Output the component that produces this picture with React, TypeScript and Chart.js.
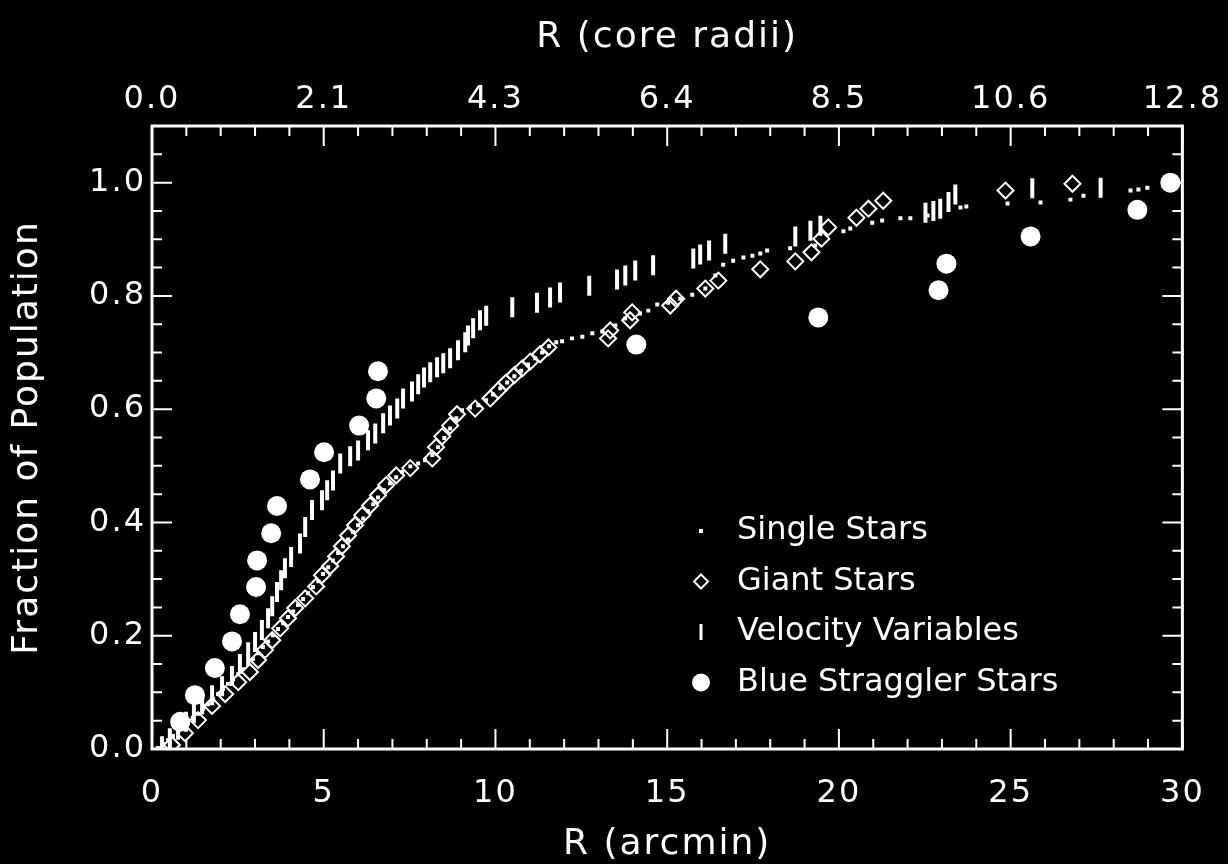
import React, { useEffect, useRef } from 'react';
import { Chart, registerables } from 'chart.js';

Chart.register(...registerables);

const FONT = '"DejaVu Sans", "Liberation Sans", sans-serif';
const WHITE = '#ffffff';

// Cumulative radial distributions, R in arcmin, fraction of each population.
const singleR = [
  0.17, 0.32, 0.47, 0.61, 0.76, 0.9, 1.05, 1.19, 1.34, 1.49, 1.63, 1.78, 1.92, 2.07, 2.21, 2.36, 2.51, 2.65, 2.8, 2.94,
  3.09, 3.23, 3.38, 3.52, 3.67, 3.82, 3.96, 4.11, 4.25, 4.4, 4.54, 4.69, 4.84, 4.98, 5.13, 5.27, 5.42, 5.56, 5.71, 5.85,
  6.0, 6.15, 6.29, 6.44, 6.58, 6.76, 6.93, 7.11, 7.28, 7.52, 7.75, 7.95, 8.16, 8.33, 8.51, 8.68, 8.86, 9.03, 9.26, 9.5,
  9.73, 9.93, 10.14, 10.34, 10.55, 10.75, 10.95, 11.16, 11.36, 11.56, 11.77, 11.94, 12.23, 12.53, 12.82, 13.11, 13.49,
  13.78, 14.21, 14.45, 14.71, 15.03, 15.38, 15.73, 16.11, 16.4, 16.63, 16.92, 17.22, 17.48, 17.71, 17.91, 18.58, 19.31,
  20.13, 20.33, 20.97, 21.26, 21.79, 22.08, 22.58, 23.54, 23.71, 24.91, 25.87, 26.74, 27.12, 28.49, 28.72, 28.98, 29.51,
];
const singleFrac = [
  0.002, 0.009, 0.016, 0.023, 0.032, 0.039, 0.046, 0.055, 0.062, 0.071, 0.079, 0.088, 0.097, 0.106, 0.115, 0.123, 0.132,
  0.141, 0.15, 0.159, 0.169, 0.18, 0.19, 0.201, 0.212, 0.222, 0.233, 0.243, 0.254, 0.265, 0.275, 0.286, 0.296, 0.309,
  0.321, 0.333, 0.346, 0.358, 0.37, 0.383, 0.395, 0.407, 0.42, 0.432, 0.444, 0.457, 0.469, 0.48, 0.489, 0.499, 0.504,
  0.51, 0.519, 0.533, 0.549, 0.566, 0.584, 0.598, 0.603, 0.607, 0.616, 0.626, 0.637, 0.647, 0.658, 0.668, 0.679, 0.69,
  0.7, 0.711, 0.718, 0.72, 0.725, 0.728, 0.734, 0.737, 0.748, 0.76, 0.769, 0.774, 0.785, 0.788, 0.795, 0.802, 0.813,
  0.836, 0.855, 0.862, 0.868, 0.871, 0.875, 0.88, 0.884, 0.889, 0.914, 0.919, 0.929, 0.933, 0.937, 0.937, 0.942, 0.956,
  0.958, 0.963, 0.965, 0.97, 0.977, 0.986, 0.988, 0.991, 0.996,
];

const giantR = [
  0.58, 0.96, 1.34, 1.75, 2.13, 2.51, 2.85, 3.09, 3.29, 3.5, 3.73, 3.96, 4.17, 4.46, 4.78, 4.95, 5.19, 5.36, 5.53, 5.71,
  5.91, 6.12, 6.35, 6.58, 6.82, 7.11, 7.52, 8.16, 8.27, 8.45, 8.68, 8.88, 9.41, 9.85, 10.08, 10.31, 10.55, 10.78, 11.01,
  11.3, 11.54, 13.28, 13.34, 13.92, 13.98, 15.09, 15.26, 16.11, 16.49, 17.71, 18.73, 19.2, 19.49, 19.69, 20.51, 20.86,
  21.29, 24.85, 26.8,
];
const giantFrac = [
  0.007, 0.028, 0.051, 0.076, 0.097, 0.118, 0.136, 0.157, 0.175, 0.192, 0.213, 0.231, 0.249, 0.266, 0.287, 0.307, 0.323,
  0.34, 0.358, 0.377, 0.395, 0.413, 0.43, 0.448, 0.466, 0.483, 0.496, 0.513, 0.533, 0.552, 0.571, 0.591, 0.601, 0.619,
  0.633, 0.647, 0.66, 0.672, 0.684, 0.697, 0.709, 0.725, 0.739, 0.757, 0.771, 0.783, 0.795, 0.813, 0.827, 0.847, 0.861,
  0.877, 0.901, 0.921, 0.938, 0.954, 0.968, 0.986, 0.998,
];

const velR = [
  0.29, 0.52, 0.76, 0.99, 1.22, 1.46, 1.75, 2.04, 2.33, 2.56, 2.8, 3.0, 3.2, 3.38, 3.5, 3.64, 3.76, 3.87, 4.05, 4.31,
  4.46, 4.66, 4.95, 5.1, 5.27, 5.48, 5.77, 6.0, 6.29, 6.5, 6.73, 6.93, 7.14, 7.31, 7.57, 7.75, 7.92, 8.1, 8.3, 8.48,
  8.68, 8.91, 9.12, 9.2, 9.35, 9.55, 9.73, 10.49, 11.21, 11.59, 11.88, 12.73, 13.54, 13.78, 14.07, 14.59, 15.76, 15.96,
  16.22, 16.69, 18.73, 19.17, 19.46, 22.52, 22.75, 22.95, 23.19, 23.39, 25.63, 27.62,
];
const velFrac = [
  0.005, 0.019, 0.034, 0.048, 0.063, 0.079, 0.095, 0.111, 0.129, 0.15, 0.171, 0.189, 0.21, 0.231, 0.252, 0.277, 0.298,
  0.319, 0.339, 0.363, 0.392, 0.422, 0.439, 0.457, 0.474, 0.504, 0.517, 0.527, 0.545, 0.557, 0.575, 0.589, 0.601, 0.619,
  0.631, 0.644, 0.656, 0.665, 0.674, 0.681, 0.69, 0.704, 0.718, 0.73, 0.743, 0.757, 0.765, 0.78, 0.788, 0.797, 0.806,
  0.818, 0.829, 0.836, 0.845, 0.854, 0.866, 0.873, 0.88, 0.892, 0.905, 0.915, 0.924, 0.947, 0.95, 0.954, 0.966, 0.979,
  0.99, 0.991,
];

const bssR = [
  0.82, 1.25, 1.83, 2.33, 2.56, 3.03, 3.06, 3.47, 3.64, 4.6, 5.01, 6.03, 6.53, 6.58, 14.1, 19.4, 22.9, 23.13, 25.58,
  28.69, 29.65,
];
const bssFrac = [
  0.048, 0.095, 0.143, 0.19, 0.238, 0.286, 0.333, 0.381, 0.429, 0.476, 0.524, 0.571, 0.619, 0.667, 0.714, 0.762, 0.81,
  0.857, 0.905, 0.952, 1.0,
];

// Axis ticks: bottom in arcmin, top the same positions expressed in core radii.
const xTickValues = [0, 5, 10, 15, 20, 25, 30];
const coreRadiiLabels = ['0.0', '2.1', '4.3', '6.4', '8.5', '10.6', '12.8'];
const yTickValues = [0, 0.2, 0.4, 0.6, 0.8, 1.0];

const X_MIN = 0;
const X_MAX = 30;
const Y_MIN = 0;
const Y_MAX = 1.1;

const toPoints = (xs: number[], ys: number[]) => xs.map((x, i) => ({ x, y: ys[i] }));

const tickFont = { family: FONT, size: 32, lineHeight: 1 };
const bottomTickFont = { family: FONT, size: 32, lineHeight: 1.6 };
const titleFont = { family: FONT, size: 36, lineHeight: 1 };

// Widen the glyph spacing of axis labels and titles (drawn before the datasets).
const spacingPlugin = {
  id: 'axisTextSpacing',
  beforeDraw(chart: any) {
    chart.ctx.letterSpacing = '2px';
  },
  beforeDatasetsDraw(chart: any) {
    chart.ctx.letterSpacing = '0px';
  },
};

// Inward-pointing ticks on all four sides plus the frame.
const framePlugin = {
  id: 'frameTicks',
  afterDraw(chart: any) {
    const { ctx, chartArea, scales } = chart;
    const { left, right, top, bottom } = chartArea;
    ctx.save();
    ctx.strokeStyle = WHITE;
    ctx.lineWidth = 2;
    const xs = scales.x;
    for (let k = 0; k <= 30; k++) {
      const v = X_MIN + k;
      const p = xs.getPixelForValue(v);
      const len = k % 5 === 0 ? 20 : 10;
      ctx.beginPath();
      ctx.moveTo(p, bottom);
      ctx.lineTo(p, bottom - len);
      ctx.moveTo(p, top);
      ctx.lineTo(p, top + len);
      ctx.stroke();
    }
    const ys = scales.y;
    for (let k = 0; k <= 22; k++) {
      const v = Y_MIN + k * 0.05;
      const p = ys.getPixelForValue(v);
      const len = k % 4 === 0 ? 20 : 10;
      ctx.beginPath();
      ctx.moveTo(left, p);
      ctx.lineTo(left + len, p);
      ctx.moveTo(right, p);
      ctx.lineTo(right - len, p);
      ctx.stroke();
    }
    ctx.lineWidth = 3;
    ctx.strokeRect(left, top, right - left, bottom - top);
    ctx.restore();
  },
};

// Symbol key placed inside the plotting area.
const keyPlugin = {
  id: 'symbolKey',
  afterDraw(chart: any) {
    const { ctx, chartArea } = chart;
    const markerX = chartArea.left + 549;
    const textX = chartArea.left + 585;
    const firstY = chartArea.top + 405;
    const gap = 50.5;
    ctx.save();
    ctx.letterSpacing = '0px';
    ctx.font = `32px ${FONT}`;
    ctx.textBaseline = 'middle';
    ctx.textAlign = 'left';
    chart.data.datasets.forEach((ds: any, i: number) => {
      const y = firstY + i * gap;
      ctx.fillStyle = WHITE;
      ctx.strokeStyle = WHITE;
      if (ds.pointStyle === 'rect') {
        ctx.fillRect(markerX - 2, y - 2, 4, 4);
      } else if (ds.pointStyle === 'rectRot') {
        ctx.lineWidth = 2;
        ctx.beginPath();
        ctx.moveTo(markerX, y - 7);
        ctx.lineTo(markerX + 7, y);
        ctx.lineTo(markerX, y + 7);
        ctx.lineTo(markerX - 7, y);
        ctx.closePath();
        ctx.stroke();
      } else if (ds.pointStyle === 'line') {
        ctx.lineWidth = 3;
        ctx.beginPath();
        ctx.moveTo(markerX, y - 8);
        ctx.lineTo(markerX, y + 8);
        ctx.stroke();
      } else {
        ctx.beginPath();
        ctx.arc(markerX, y, 9, 0, Math.PI * 2);
        ctx.fill();
      }
      ctx.fillText(ds.label, textX, y);
    });
    ctx.restore();
  },
};

export default function App() {
  const canvasRef = useRef<HTMLCanvasElement | null>(null);

  useEffect(() => {
    document.body.style.margin = '0';
    document.body.style.background = '#000';
    const canvas = canvasRef.current;
    if (!canvas) return;

    const chart = new Chart(canvas, {
      type: 'scatter',
      data: {
        datasets: [
          {
            label: 'Single Stars',
            data: toPoints(singleR, singleFrac),
            pointStyle: 'rect',
            pointRadius: 2.8,
            pointBackgroundColor: WHITE,
            pointBorderWidth: 0,
          },
          {
            label: 'Giant Stars',
            data: toPoints(giantR, giantFrac),
            pointStyle: 'rectRot',
            pointRadius: 8,
            pointBackgroundColor: 'rgba(0,0,0,0)',
            pointBorderColor: WHITE,
            pointBorderWidth: 2,
          },
          {
            label: 'Velocity Variables',
            data: toPoints(velR, velFrac),
            pointStyle: 'line',
            pointRotation: 90,
            pointRadius: 10,
            pointBorderColor: WHITE,
            pointBorderWidth: 4,
          },
          {
            label: 'Blue Straggler Stars',
            data: toPoints(bssR, bssFrac),
            pointStyle: 'circle',
            pointRadius: 10,
            pointBackgroundColor: WHITE,
            pointBorderWidth: 0,
          },
        ],
      },
      options: {
        responsive: false,
        maintainAspectRatio: false,
        animation: false,
        devicePixelRatio: 1,
        events: [],
        layout: { padding: { top: 0, right: 45, bottom: 0, left: 0 } },
        plugins: {
          legend: { display: false },
          tooltip: { enabled: false },
        },
        scales: {
          x: {
            type: 'linear',
            position: 'bottom',
            min: X_MIN,
            max: X_MAX,
            afterBuildTicks: (s: any) => {
              s.ticks = xTickValues.map((value) => ({ value }));
            },
            afterFit: (s: any) => {
              s.height = 115;
            },
            ticks: {
              color: WHITE,
              font: bottomTickFont,
              padding: 19,
              maxRotation: 0,
              autoSkip: false,
              callback: (v: any) => String(v),
            },
            grid: { display: false, drawTicks: false },
            border: { display: false },
            title: {
              display: true,
              text: 'R (arcmin)',
              color: WHITE,
              font: titleFont,
              padding: { top: 0, bottom: 1 },
            },
          },
          x2: {
            type: 'linear',
            axis: 'x',
            position: 'top',
            min: X_MIN,
            max: X_MAX,
            afterBuildTicks: (s: any) => {
              s.ticks = xTickValues.map((value) => ({ value }));
            },
            afterFit: (s: any) => {
              s.height = 126;
            },
            ticks: {
              color: WHITE,
              font: tickFont,
              padding: 10,
              maxRotation: 0,
              autoSkip: false,
              callback: (_v: any, i: number) => coreRadiiLabels[i],
            },
            grid: { display: false, drawTicks: false },
            border: { display: false },
            title: {
              display: true,
              text: 'R (core radii)',
              color: WHITE,
              font: titleFont,
              padding: { top: 20, bottom: 0 },
            },
          },
          y: {
            type: 'linear',
            position: 'left',
            min: Y_MIN,
            max: Y_MAX,
            afterBuildTicks: (s: any) => {
              s.ticks = yTickValues.map((value) => ({ value }));
            },
            afterFit: (s: any) => {
              s.width = 152;
            },
            ticks: {
              color: WHITE,
              font: tickFont,
              padding: 6,
              autoSkip: false,
              callback: (v: any) => Number(v).toFixed(1),
            },
            grid: { display: false, drawTicks: false },
            border: { display: false },
            title: {
              display: true,
              text: 'Fraction of Population',
              color: WHITE,
              font: titleFont,
              padding: { top: 10, bottom: 0 },
            },
          },
        },
      },
      plugins: [spacingPlugin, framePlugin, keyPlugin],
    } as any);

    return () => chart.destroy();
  }, []);

  return (
    <div style={{ position: 'fixed', left: 0, top: 0, width: 1228, height: 864, background: '#000' }}>
      <canvas ref={canvasRef} width={1228} height={864} style={{ display: 'block' }} />
    </div>
  );
}
